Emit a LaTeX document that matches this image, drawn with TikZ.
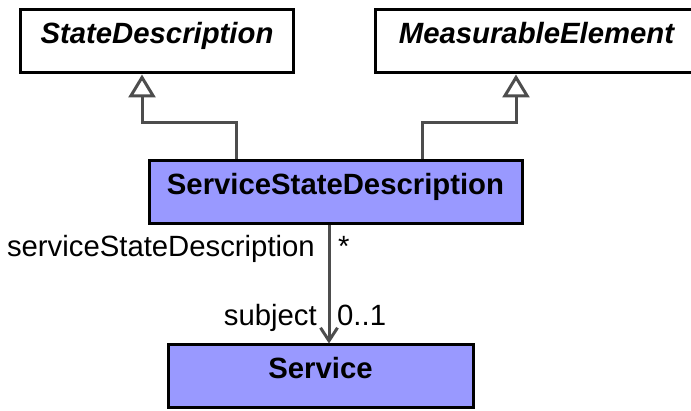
\documentclass[tikz,border=0pt]{standalone}
\usepackage{fontspec}
\setmainfont{Liberation Sans}
\usepackage{xcolor}
\usepackage{tikz}
\usetikzlibrary{arrows.meta,
positioning,
calc}

\definecolor{classfill}{RGB}{153,153,255}
\definecolor{linkgray}{RGB}{77,77,77}

\begin{document}
\begin{tikzpicture}[
				x=1pt, y=-1pt,
				classbox/.style={
					draw=black,
					line width=3pt,
					text height=30pt,
					text depth=25pt,
					inner xsep=0pt,
					inner ysep=4pt,
					align=center,
					anchor=base,
					font=\fontsize{29.3}{35}\selectfont\bfseries
				},
				abstractbox/.style={
					classbox,
					fill=white,
					font=\fontsize{29.3}{35}\selectfont\bfseries\itshape
				},
				concretebox/.style={
					classbox,
					fill=classfill
				},
				rolelabel/.style={
					inner sep=0pt,
					font=\fontsize{29.3}{35}\selectfont
				},
				generalize/.style={
					draw=linkgray,
					line width=3pt,
					-{Triangle[open,length=23pt,width=27pt,fill=white]}
				},
				association/.style={
					draw=linkgray,
					line width=3pt,
					-{Straight Barb[length=13pt,width=17pt]}
				}
				]
				\clip (0,0) rectangle (691,411);
				\node[abstractbox, minimum width=273pt] (statedesc) at (157,44) {StateDescription};
				\node[abstractbox, minimum width=323pt] (measurable) at (536.5,44) {MeasurableElement};
				
				\node[concretebox, minimum width=373pt] (servicestate) at (335.5,195) {ServiceStateDescription};
				\node[concretebox, minimum width=305pt] (service) at (320.5,379) {Service};
				
				\draw[generalize] ([xshift=-99.5pt]servicestate.north) -- ++(0,-37) -| ([xshift=-15pt]statedesc.south);
				\draw[generalize] ([xshift=86.5pt]servicestate.north) -- ++(0,-37) -| ([xshift=-20.5pt]measurable.south);
				
				\draw[association] ([xshift=-6.5pt]servicestate.south) -- ([xshift=8.5pt]service.north);
				
				\node[rolelabel, anchor=base east] (sourcerole) at (315,257) {serviceStateDescription};
				\node[rolelabel, anchor=base west] (sourcemult) at (338,257) {*};
				\node[rolelabel, anchor=base east] (targetrole) at (317,326) {subject};
				\node[rolelabel, anchor=base west] (targetmult) at (337,326) {0..1};
			\end{tikzpicture}
\end{document}
